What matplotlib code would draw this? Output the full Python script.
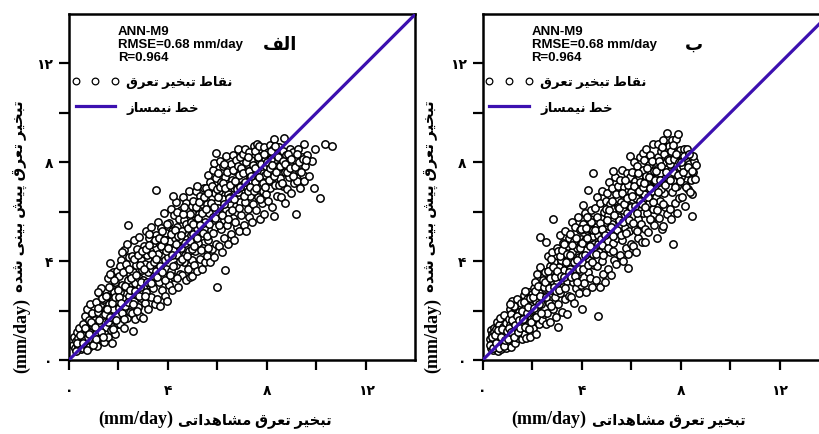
import matplotlib
matplotlib.use('Agg')
import matplotlib.pyplot as plt
from matplotlib.lines import Line2D

# ---------------- data ----------------
# panel "alef": observed vs predicted evapotranspiration (mm/day)
obs_alef = [
    0.15,0.20,0.24,0.28,0.31,0.35,0.38,0.42,0.46,0.49,
    0.52,0.55,0.58,0.61,0.64,0.67,0.70,0.73,0.76,0.79,0.82,0.85,0.88,0.92,0.95,0.98,
    1.02,1.05,1.08,1.11,1.14,1.17,1.20,1.23,1.26,1.29,1.31,1.34,1.37,1.40,1.43,1.45,1.47,1.49,
    1.51,1.53,1.56,1.58,1.61,1.63,1.66,1.68,1.71,1.73,1.76,1.78,1.81,1.83,1.86,1.88,1.91,1.93,1.96,1.98,
    2.01,2.03,2.06,2.08,2.11,2.13,2.16,2.18,2.21,2.23,2.26,2.28,2.31,2.33,2.36,2.39,2.41,2.43,2.46,2.48,2.39,
    2.51,2.53,2.56,2.58,2.61,2.63,2.66,2.68,2.71,2.73,2.76,2.78,2.81,2.83,2.86,2.88,2.91,2.93,2.96,2.98,2.60,
    3.01,3.03,3.06,3.08,3.11,3.13,3.16,3.18,3.21,3.23,3.26,3.28,3.31,3.33,3.36,3.38,3.41,3.43,3.46,3.48,3.52,
    3.51,3.53,3.56,3.58,3.61,3.63,3.66,3.68,3.71,3.73,3.76,3.78,3.81,3.83,3.86,3.88,3.91,3.93,3.95,3.97,3.99,
    4.01,4.03,4.06,4.08,4.11,4.13,4.16,4.18,4.21,4.23,4.26,4.28,4.31,4.33,4.36,4.38,4.41,4.43,4.46,4.48,4.22,
    4.51,4.53,4.56,4.58,4.61,4.63,4.66,4.68,4.71,4.73,4.76,4.78,4.81,4.83,4.86,4.88,4.91,4.93,4.96,4.97,4.99,
    5.01,5.03,5.06,5.08,5.11,5.13,5.16,5.18,5.21,5.23,5.26,5.28,5.31,5.33,5.36,5.38,5.41,5.43,5.46,5.48,5.17,
    5.51,5.53,5.56,5.58,5.61,5.63,5.66,5.68,5.71,5.73,5.76,5.78,5.81,5.83,5.86,5.88,5.91,5.93,5.96,6.00,5.84,5.95,
    6.01,6.03,6.06,6.08,6.11,6.13,6.16,6.18,6.21,6.23,6.26,6.28,6.31,6.33,6.36,6.38,6.41,6.43,6.46,6.48,6.32,
    6.51,6.53,6.56,6.58,6.61,6.63,6.66,6.68,6.71,6.73,6.76,6.78,6.81,6.83,6.86,6.88,6.91,6.93,6.96,6.98,
    7.01,7.03,7.06,7.08,7.11,7.13,7.16,7.18,7.21,7.23,7.26,7.28,7.31,7.33,7.36,7.38,7.41,7.43,7.46,7.48,
    7.51,7.53,7.56,7.58,7.61,7.63,7.66,7.67,7.71,7.73,7.76,7.78,7.81,7.83,7.86,7.88,7.91,7.94,7.97,
    8.01,8.03,8.06,8.08,8.11,8.13,8.16,8.18,8.21,8.23,8.26,8.27,8.27,8.31,8.36,8.41,8.45,8.48,
    8.51,8.54,8.57,8.60,8.63,8.66,8.68,8.71,8.74,8.77,8.80,8.84,8.88,8.92,8.96,
    9.02,9.06,9.10,9.14,9.18,9.22,9.26,9.30,9.35,9.40,9.45,9.49,
    9.49,9.55,9.60,9.68,9.80,9.89,9.96,
    10.16,10.36,10.63,
]
pred_alef = [
    0.62,0.95,0.48,0.78,1.12,0.55,0.88,1.28,0.70,0.45,
    1.05,0.50,1.45,0.82,1.78,0.60,1.25,2.05,0.95,1.60,0.52,2.26,1.15,0.78,1.92,1.38,
    0.68,1.62,2.35,1.10,0.55,1.95,1.40,2.70,0.88,2.15,2.92,1.25,1.78,0.72,2.48,1.55,1.05,2.05,
    1.35,2.60,0.95,3.30,1.85,2.25,3.92,1.20,2.90,0.69,2.05,3.55,1.60,2.75,1.05,3.15,2.40,1.80,3.60,1.45,
    2.10,3.40,1.45,2.75,4.05,1.90,3.05,2.45,4.45,1.30,3.70,2.20,2.95,4.68,1.70,3.25,2.60,4.15,1.95,3.50,5.47,
    2.85,4.20,1.90,3.55,2.40,4.85,3.10,1.65,3.85,2.65,4.50,2.15,3.30,4.98,1.80,2.95,4.05,2.50,3.65,1.70,1.17,
    3.25,4.60,2.30,3.90,5.20,2.75,4.25,3.55,2.05,4.95,3.05,4.40,2.55,5.38,3.70,2.90,4.75,3.40,2.25,4.10,6.87,
    3.60,5.05,2.45,4.30,5.60,3.15,4.70,2.20,3.95,5.35,2.85,4.50,3.40,5.95,2.60,4.05,5.15,3.70,2.40,4.85,3.25,
    4.15,5.55,3.05,4.80,6.10,3.60,5.20,2.85,4.45,5.85,3.35,4.95,6.40,3.85,5.40,4.25,2.95,5.70,4.60,3.50,6.64,
    4.55,6.05,3.45,5.20,6.60,3.95,5.65,4.25,3.25,6.35,4.90,5.45,3.70,6.85,4.40,5.90,3.35,5.05,6.25,4.05,3.40,
    5.10,6.45,3.85,5.65,4.40,6.85,5.35,3.60,6.10,4.75,5.90,4.10,6.65,5.00,3.70,6.30,4.55,5.55,6.95,3.95,7.04,
    5.60,6.95,4.20,6.30,7.50,4.85,5.95,3.95,7.20,5.25,6.60,4.50,7.70,5.80,4.15,6.75,5.40,7.35,4.70,2.94,7.98,8.36,
    6.15,7.55,4.60,6.85,8.05,5.30,7.20,4.35,6.50,7.85,5.65,4.95,7.40,6.05,8.25,5.45,6.70,4.70,7.75,5.95,3.64,
    6.60,7.95,5.10,7.30,8.30,5.75,6.95,4.85,7.65,6.25,8.10,5.40,8.53,6.80,5.20,7.50,6.40,8.20,5.85,7.05,
    7.10,8.35,5.45,7.75,6.40,8.55,5.22,6.95,7.95,6.10,8.40,5.80,7.40,6.65,8.10,5.60,7.25,6.30,8.66,7.60,
    7.20,8.45,6.05,7.70,8.75,6.60,7.95,8.66,5.70,7.35,8.25,6.35,7.85,6.85,8.60,5.90,7.50,8.10,6.70,
    7.55,8.40,6.45,7.95,8.70,6.95,8.15,7.25,6.20,8.55,7.70,5.82,8.93,7.10,8.30,6.65,7.85,8.60,
    7.35,8.20,6.60,7.80,8.45,7.05,8.97,6.35,7.60,8.30,6.90,8.05,7.40,8.55,6.75,
    7.90,8.40,7.15,8.10,5.91,7.24,8.55,7.65,6.95,8.20,7.50,8.73,
    7.24,7.85,8.30,7.45,8.05,6.97,8.53,
    6.57,8.73,8.66,
]
# denser core of the "alef" cloud
obs_alef_core = [
    0.27,0.33,0.44,0.57,0.63,0.72,0.81,0.90,0.97,
    1.04,1.10,1.16,1.22,1.28,1.33,1.39,1.44,1.48,1.19,
    1.52,1.57,1.62,1.67,1.72,1.77,1.82,1.87,1.92,1.97,1.65,
    2.02,2.07,2.12,2.17,2.22,2.27,2.32,2.37,2.42,2.47,2.15,
    2.52,2.57,2.62,2.67,2.72,2.77,2.82,2.87,2.92,2.97,2.75,
    3.02,3.07,3.12,3.17,3.22,3.27,3.32,3.37,3.42,3.47,3.25,
    3.52,3.57,3.62,3.67,3.72,3.77,3.82,3.87,3.92,3.97,3.75,
    4.02,4.07,4.12,4.17,4.22,4.27,4.32,4.37,4.42,4.47,4.35,
    4.52,4.57,4.62,4.67,4.72,4.77,4.82,4.87,4.92,4.97,4.65,
    5.02,5.07,5.12,5.17,5.22,5.27,5.32,5.37,5.42,5.47,5.30,
    5.52,5.57,5.62,5.67,5.72,5.77,5.82,5.87,5.92,5.97,5.60,
    6.02,6.07,6.12,6.17,6.22,6.27,6.32,6.37,6.42,6.47,6.25,
    6.52,6.57,6.62,6.67,6.72,6.77,6.82,6.87,6.92,6.97,6.70,
    7.02,7.07,7.12,7.17,7.22,7.27,7.32,7.37,7.42,7.47,7.25,
    7.52,7.57,7.62,7.67,7.72,7.77,7.82,7.87,7.92,7.97,
    8.02,8.07,8.12,8.17,8.22,8.28,8.33,8.38,8.43,8.49,
    8.53,8.59,8.65,8.72,8.79,8.86,8.93,8.99,
    9.04,9.12,9.20,9.28,9.38,9.46,9.58,
]
pred_alef_core = [
    0.38,0.70,1.00,0.68,1.30,0.42,1.05,1.55,0.60,
    1.35,0.85,2.10,1.60,1.15,2.50,0.95,1.85,2.60,2.75,
    2.05,1.55,2.95,1.75,2.30,1.25,3.25,2.55,1.60,2.85,3.50,
    2.55,3.80,2.30,3.55,1.65,3.00,3.90,2.35,3.70,2.85,4.35,
    3.30,2.25,4.10,2.80,3.45,4.25,2.60,3.85,3.15,4.40,2.00,
    3.70,2.60,4.50,3.15,4.65,3.85,3.10,4.30,3.95,4.85,5.10,
    4.10,3.35,4.95,3.80,4.60,3.55,4.85,3.25,4.40,5.50,5.20,
    4.55,3.45,5.10,4.25,3.80,5.25,4.70,6.00,5.00,4.00,3.30,
    5.05,4.10,5.90,4.75,5.50,4.20,5.35,4.80,5.60,4.50,6.20,
    5.50,4.60,6.20,4.95,5.75,6.40,4.45,5.95,5.15,6.60,5.45,
    6.10,5.00,6.75,5.50,6.35,7.05,5.15,6.20,5.75,6.90,4.55,
    6.60,5.45,7.00,5.85,7.15,6.30,6.95,7.60,5.70,6.55,7.95,
    7.10,6.05,7.70,6.50,7.25,6.90,7.85,6.15,7.00,7.75,5.60,
    7.55,6.65,7.20,8.00,6.85,7.65,7.00,7.45,7.90,6.85,8.20,
    7.75,6.95,8.20,7.40,6.50,7.95,7.15,8.35,7.00,7.85,
    8.00,7.30,7.75,8.45,7.90,7.45,8.65,7.60,8.20,7.10,
    7.85,7.15,8.05,7.95,7.60,8.35,7.75,8.15,
    7.45,7.80,8.35,8.00,7.60,8.15,8.10,
]

# panel "be"
obs_be = [
    0.30,0.32,0.34,0.36,0.38,0.40,0.42,0.44,0.46,0.48,0.35,0.45,
    0.51,0.53,0.55,0.57,0.59,0.61,0.63,0.65,0.67,0.69,0.71,0.73,0.75,0.77,0.79,0.81,0.84,0.87,0.90,0.93,0.96,0.99,
    1.01,1.03,1.05,1.07,1.09,1.11,1.13,1.15,1.17,1.19,1.21,1.24,1.26,1.28,1.31,1.33,1.36,1.38,1.41,1.43,1.46,1.49,
    1.51,1.53,1.56,1.58,1.61,1.63,1.66,1.68,1.71,1.73,1.76,1.78,1.81,1.83,1.86,1.88,1.91,1.93,1.96,1.98,
    2.01,2.03,2.06,2.08,2.11,2.14,2.17,2.20,2.23,2.26,2.29,2.32,2.35,2.38,2.41,2.44,2.47,2.49,2.32,
    2.51,2.53,2.56,2.58,2.61,2.64,2.67,2.70,2.73,2.76,2.79,2.82,2.85,2.88,2.91,2.94,2.97,2.99,2.56,2.85,3.03,
    3.01,3.04,3.06,3.09,3.11,3.14,3.16,3.19,3.21,3.24,3.26,3.29,3.31,3.34,3.36,3.39,3.41,3.44,3.46,3.48,3.50,
    3.52,3.54,3.57,3.59,3.62,3.64,3.67,3.69,3.72,3.74,3.77,3.79,3.82,3.84,3.87,3.89,3.92,3.94,3.97,3.99,4.00,
    4.02,4.04,4.07,4.09,4.12,4.14,4.17,4.19,4.22,4.24,4.27,4.29,4.32,4.34,4.37,4.39,4.42,4.44,4.47,4.49,4.27,4.47,
    4.51,4.53,4.56,4.58,4.61,4.63,4.66,4.67,4.70,4.72,4.75,4.77,4.80,4.82,4.85,4.87,4.90,4.92,4.95,4.97,4.99,
    5.01,5.03,5.06,5.08,5.11,5.13,5.16,5.18,5.21,5.23,5.26,5.28,5.31,5.33,5.36,5.38,5.41,5.43,5.46,5.48,5.28,
    5.51,5.53,5.56,5.58,5.61,5.63,5.66,5.68,5.71,5.73,5.76,5.78,5.81,5.83,5.86,5.88,5.91,5.93,5.96,5.98,5.86,5.95,
    6.01,6.03,6.06,6.09,6.11,6.14,6.16,6.19,6.21,6.24,6.26,6.29,6.31,6.34,6.36,6.39,6.41,6.44,6.46,6.49,6.49,6.36,
    6.51,6.53,6.56,6.58,6.61,6.63,6.66,6.69,6.71,6.73,6.76,6.78,6.81,6.83,6.86,6.88,6.91,6.93,6.96,6.98,6.56,6.74,
    7.01,7.03,7.06,7.08,7.10,7.13,7.16,7.18,7.21,7.23,7.26,7.28,7.30,7.33,7.36,7.38,7.41,7.43,7.46,7.48,7.20,7.40,
    7.51,7.53,7.56,7.58,7.61,7.63,7.66,7.68,7.70,7.73,7.76,7.78,7.81,7.83,7.86,7.88,7.90,7.93,7.96,7.98,
    8.01,8.04,8.07,8.10,8.13,8.16,8.19,8.22,8.25,8.27,8.31,8.35,8.40,8.44,8.44,
    8.51,8.53,8.58,8.62,8.51,
]
pred_be = [
    0.85,0.55,1.20,0.70,1.05,0.42,0.95,1.30,0.60,0.80,0.48,1.12,
    0.95,0.50,1.25,0.72,1.55,0.38,1.05,0.62,1.40,0.85,1.70,0.45,1.15,0.95,0.55,1.35,1.82,0.75,1.10,0.48,1.50,0.90,
    1.20,0.62,1.65,0.95,2.05,1.40,0.52,1.85,1.05,2.40,0.78,1.55,1.25,2.15,0.68,1.75,1.00,2.46,1.45,0.88,1.95,1.30,
    1.70,1.10,2.30,0.85,1.95,1.40,2.65,1.05,2.10,1.60,0.90,2.45,1.25,1.85,2.75,1.50,0.95,2.20,1.75,2.67,
    2.05,1.30,2.90,1.70,3.14,2.40,1.05,3.50,1.95,2.70,1.45,3.75,2.25,3.05,1.60,2.55,3.40,1.85,4.96,
    2.60,3.55,1.45,1.90,3.00,4.20,2.30,3.80,1.55,2.85,4.35,3.20,2.05,3.95,2.55,1.75,3.45,4.55,4.78,5.70,1.35,
    3.10,4.40,2.25,3.75,5.05,2.70,4.05,1.95,3.40,4.75,2.95,3.65,5.20,2.45,4.25,3.20,1.85,4.60,3.90,2.60,4.95,
    3.70,5.10,2.55,4.35,5.60,3.15,4.80,2.30,4.00,5.40,2.90,4.55,3.45,5.80,2.70,4.15,5.25,3.60,4.90,3.05,2.06,
    4.20,5.50,6.26,3.10,4.85,5.95,2.75,4.45,5.25,3.55,6.87,4.05,5.70,3.30,4.65,6.05,2.95,5.00,7.58,3.85,5.35,4.30,
    4.70,6.15,3.25,5.40,6.60,3.80,5.05,1.77,4.35,6.35,2.95,5.75,4.00,6.85,3.50,5.20,6.00,4.55,3.15,5.60,6.45,
    5.15,6.75,3.70,5.85,7.20,4.35,6.30,3.45,5.50,6.95,4.75,6.10,4.05,5.30,7.40,3.90,6.55,4.95,5.80,7.05,7.65,
    5.65,7.30,4.25,6.40,7.70,4.85,6.05,4.01,7.00,5.35,6.70,4.55,7.55,5.95,4.30,6.85,5.20,7.40,6.25,4.70,3.72,8.25,
    6.20,7.60,4.60,6.90,8.00,5.30,7.25,4.35,6.55,7.85,5.70,4.95,7.45,6.10,8.20,5.50,6.80,4.76,7.70,5.95,8.39,6.45,
    6.70,8.10,5.30,7.45,8.55,5.95,7.10,5.16,7.90,6.35,8.30,5.65,7.60,6.85,8.75,6.10,7.30,5.45,8.00,6.60,4.76,7.00,
    7.20,4.92,6.05,8.20,8.73,5.75,7.55,6.45,8.45,5.30,7.00,8.90,5.43,6.75,7.85,6.20,8.60,9.20,5.90,7.35,6.90,8.00,
    7.50,8.65,6.10,7.95,5.70,8.90,6.80,7.25,4.69,8.40,6.35,7.70,8.95,5.95,7.05,8.20,9.13,6.55,7.80,8.50,
    7.40,8.30,6.60,7.85,8.55,7.10,6.25,8.05,7.55,8.55,6.90,7.95,7.30,5.81,6.71,
    7.60,8.05,7.31,7.90,8.25,
]
obs_be_core = [
    0.31,0.37,0.43,0.49,0.54,0.60,0.66,0.72,0.78,0.85,0.91,0.97,
    1.02,1.08,1.14,1.20,1.27,1.32,1.37,1.42,1.47,1.25,1.12,
    1.52,1.57,1.62,1.67,1.72,1.77,1.82,1.87,1.92,1.97,1.70,
    2.02,2.07,2.12,2.17,2.22,2.27,2.32,2.37,2.42,2.47,
    2.52,2.57,2.62,2.67,2.72,2.77,2.82,2.87,2.92,2.97,2.75,
    3.02,3.07,3.12,3.17,3.22,3.27,3.32,3.37,3.42,3.47,3.30,
    3.52,3.57,3.62,3.67,3.72,3.77,3.82,3.87,3.92,3.97,3.80,
    4.02,4.07,4.12,4.17,4.22,4.27,4.32,4.37,4.42,4.47,4.20,
    4.52,4.57,4.62,4.67,4.72,4.77,4.82,4.87,4.92,4.97,4.80,
    5.02,5.07,5.12,5.17,5.22,5.27,5.32,5.37,5.42,5.47,5.25,
    5.52,5.57,5.62,5.67,5.72,5.77,5.82,5.87,5.92,5.97,5.75,
    6.02,6.07,6.12,6.17,6.22,6.27,6.32,6.37,6.42,6.47,6.25,
    6.52,6.57,6.62,6.67,6.72,6.77,6.82,6.87,6.92,6.97,6.75,
    7.02,7.07,7.12,7.17,7.22,7.27,7.32,7.37,7.42,7.47,7.25,
    7.52,7.57,7.62,7.67,7.72,7.77,7.82,7.87,7.92,7.97,7.70,
    8.03,8.09,8.15,8.21,8.28,8.34,8.39,8.46,
]
pred_be_core = [
    0.62,0.95,0.50,1.00,0.70,1.20,0.48,0.92,1.25,0.58,0.80,1.18,
    0.85,1.30,1.15,1.60,0.95,1.40,1.80,1.15,1.60,2.20,2.25,
    1.30,2.00,1.65,2.35,1.35,1.90,2.15,1.25,2.50,1.55,2.80,
    2.55,2.10,2.80,1.75,3.00,2.25,2.60,1.90,3.25,2.95,
    3.15,2.55,3.60,2.90,3.30,2.20,3.75,2.95,3.35,2.80,4.10,
    3.60,2.85,4.20,3.40,4.45,3.35,2.90,3.95,4.30,3.55,4.70,
    4.25,3.35,4.65,3.95,3.40,4.95,4.05,3.70,4.55,5.30,3.15,
    4.75,3.70,4.25,5.35,4.95,3.85,4.60,5.60,3.95,5.25,5.80,
    5.25,4.30,5.80,4.70,5.55,4.90,5.30,4.25,5.05,6.10,4.65,
    5.65,4.55,6.05,5.40,6.45,4.40,5.85,6.70,5.25,6.20,5.00,
    6.15,5.05,6.75,5.60,6.30,5.15,6.55,7.10,5.65,6.80,7.30,
    6.65,5.55,7.05,6.25,5.95,7.55,6.85,7.20,6.30,7.00,5.20,
    7.15,6.20,7.75,6.60,7.40,6.95,8.05,6.40,7.65,7.30,5.70,
    7.65,6.80,8.05,7.30,7.85,6.30,8.35,7.10,7.60,8.15,8.60,
    8.10,7.30,8.45,7.60,8.15,7.00,8.35,7.50,8.00,7.25,8.70,
    8.00,7.60,8.25,7.00,7.80,8.35,6.80,7.65,
]

bisector = [0, 14]
tick_values = [0, 2, 4, 6, 8, 10, 12]
tick_labels = ['۰', '', '۴', '', '۸', '', '۱۲']
stats_text = 'ANN-M9\nRMSE=0.68 mm/day\nR=0.964'
panel_names = ['الف', 'ب']
legend_points = 'نقاط تبخیر تعرق'
legend_line = 'خط نیمساز'
xlabel_fa = 'تبخیر تعرق مشاهداتی'
ylabel_fa = 'تبخیر تعرق پیش بینی شده'
unit = '(mm/day)'

for a, b in [(obs_alef, pred_alef), (obs_alef_core, pred_alef_core),
             (obs_be, pred_be), (obs_be_core, pred_be_core)]:
    assert len(a) == len(b), (len(a), len(b))

# ---------------- minimal Persian shaping (presentation forms + RTL order) ----------------
FORMS = {
    'ا': ('\uFE8D', '\uFE8E', None, None),
    'ب': ('\uFE8F', '\uFE90', '\uFE91', '\uFE92'),
    'ت': ('\uFE95', '\uFE96', '\uFE97', '\uFE98'),
    'خ': ('\uFEA5', '\uFEA6', '\uFEA7', '\uFEA8'),
    'د': ('\uFEA9', '\uFEAA', None, None),
    'ر': ('\uFEAD', '\uFEAE', None, None),
    'ز': ('\uFEAF', '\uFEB0', None, None),
    'س': ('\uFEB1', '\uFEB2', '\uFEB3', '\uFEB4'),
    'ش': ('\uFEB5', '\uFEB6', '\uFEB7', '\uFEB8'),
    'ط': ('\uFEC1', '\uFEC2', '\uFEC3', '\uFEC4'),
    'ع': ('\uFEC9', '\uFECA', '\uFECB', '\uFECC'),
    'ف': ('\uFED1', '\uFED2', '\uFED3', '\uFED4'),
    'ق': ('\uFED5', '\uFED6', '\uFED7', '\uFED8'),
    'ل': ('\uFEDD', '\uFEDE', '\uFEDF', '\uFEE0'),
    'م': ('\uFEE1', '\uFEE2', '\uFEE3', '\uFEE4'),
    'ن': ('\uFEE5', '\uFEE6', '\uFEE7', '\uFEE8'),
    'ه': ('\uFEE9', '\uFEEA', '\uFEEB', '\uFEEC'),
    'ی': ('\uFBFC', '\uFBFD', '\uFBFE', '\uFBFF'),
    'پ': ('\uFB56', '\uFB57', '\uFB58', '\uFB59'),
}


def rtl(text):
    out = []
    n = len(text)
    for i, ch in enumerate(text):
        f = FORMS.get(ch)
        if f is None:
            out.append(ch)
            continue
        prev = text[i - 1] if i > 0 else None
        nxt = text[i + 1] if i + 1 < n else None
        jp = prev in FORMS and FORMS[prev][2] is not None
        jn = f[2] is not None and nxt in FORMS
        if jp and jn:
            out.append(f[3])
        elif jp:
            out.append(f[1])
        elif jn:
            out.append(f[2])
        else:
            out.append(f[0])
    return ''.join(reversed(out))


plt.rcParams['font.family'] = ['Liberation Serif', 'DejaVu Sans']
plt.rcParams['font.weight'] = 'bold'

LINE_COLOR = '#3c10b0'

fig = plt.figure(figsize=(8.2, 4.35), dpi=100)
ax1 = fig.add_axes([0.0841, 0.1701, 0.4226, 0.7954])
ax2 = fig.add_axes([0.5887, 0.1701, 0.4226, 0.7954])

panels = [(ax1, obs_alef + obs_alef_core, pred_alef + pred_alef_core, panel_names[0], -0.138),
          (ax2, obs_be + obs_be_core, pred_be + pred_be_core, panel_names[1], -0.146)]

for ax, xo, yp, name, ylab_x in panels:
    ax.scatter(xo, yp, s=28, facecolors='white', edgecolors='black',
               linewidths=1.1, zorder=2)
    ax.plot(bisector, bisector, color=LINE_COLOR, lw=2.3, zorder=3)
    ax.set_xlim(0, 14)
    ax.set_ylim(0, 14)
    ax.set_xticks(tick_values)
    ax.set_xticklabels(tick_labels)
    ax.set_yticks(tick_values)
    ax.set_yticklabels(tick_labels)
    ax.tick_params(direction='out', length=7.5, width=1.6, labelsize=10)
    ax.tick_params(axis='x', pad=10)
    ax.tick_params(axis='y', pad=4)
    for sp in ax.spines.values():
        sp.set_linewidth(1.8)

    # x label: "(mm/day)" + Persian text
    ax.text(0.300, -0.182, unit, transform=ax.transAxes, ha='right', va='baseline',
            fontsize=13, fontweight='bold')
    ax.text(0.314, -0.182, rtl(xlabel_fa), transform=ax.transAxes, ha='left', va='baseline',
            fontsize=10.5, fontweight='bold')
    # y label (rotated)
    ax.text(ylab_x, 0.183, unit, transform=ax.transAxes, ha='right', va='center',
            rotation=90, rotation_mode='anchor', fontsize=13, fontweight='bold')
    ax.text(ylab_x, 0.199, rtl(ylabel_fa), transform=ax.transAxes, ha='left', va='center',
            rotation=90, rotation_mode='anchor', fontsize=11, fontweight='bold')

    ax.text(0.141, 0.968, stats_text, transform=ax.transAxes, va='top', ha='left',
            fontsize=9.5, fontweight='bold', family='Liberation Sans', linespacing=1.12)
    ax.text(0.61, 0.912, rtl(name), transform=ax.transAxes, va='center', ha='center',
            fontsize=13, fontweight='bold')

    h_pts = Line2D([], [], ls='none', marker='o', mfc='white', mec='black', ms=4.8, mew=0.9)
    h_line = Line2D([], [], color=LINE_COLOR, lw=2.3)
    ax.legend([h_pts, h_line], [rtl(legend_points), rtl(legend_line)],
              loc='upper left', bbox_to_anchor=(0.0, 0.830), frameon=False,
              numpoints=3, handlelength=3.6, handletextpad=0.55, labelspacing=0.95,
              borderpad=0.2, borderaxespad=0.0, prop={'size': 9.5, 'weight': 'bold'})

fig.savefig('out.png', dpi=100)
